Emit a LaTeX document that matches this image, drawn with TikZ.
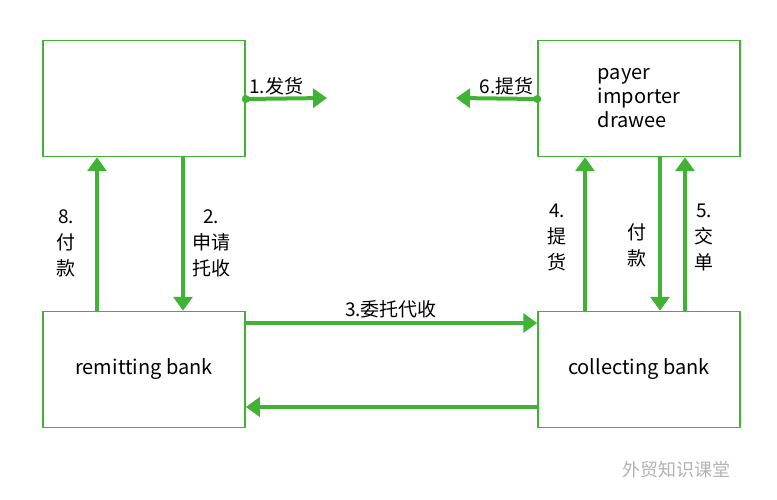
\documentclass[tikz,border=0pt]{standalone}
\usepackage{fontspec}
\setmainfont{Noto Sans CJK SC}
\usetikzlibrary{arrows.meta}
\definecolor{gr}{RGB}{64,178,52}
\begin{document}
\begin{tikzpicture}[x=1pt,y=-1pt,
 box/.style={draw=gr,line width=1.5pt,minimum width=202pt,minimum height=116pt,inner sep=0pt,align=left,font=\fontsize{20}{24}\selectfont},
 arr/.style={draw=gr,line width=4pt,-{Triangle[length=14pt,width=19pt]}},
 lab/.style={font=\fontsize{19}{21}\selectfont,inner sep=0pt}]
\useasboundingbox (0,0) rectangle (777,500);
\node[box] (tl) at (144,98.5) {};
\node[box] (tr) at (639,98.5) {payer\\importer\\drawee};
\node[box] (bl) at (144,369.5) {remitting bank};
\node[box] (br) at (639,369.5) {collecting bank};
\coordinate (e1) at (327,98);
\coordinate (e6) at (456,98);
\draw[arr] ([yshift=-0.5pt]tl.east) -- (e1);
\fill[gr] ([yshift=-0.5pt]tl.east) circle (4pt);
\draw[arr] ([yshift=-0.5pt]tr.west) -- (e6);
\fill[gr] ([yshift=-0.5pt]tr.west) circle (4pt);
\draw[arr] (bl.north -| 97,0) -- (tl.south -| 97,0);
\draw[arr] (tl.south -| 183,0) -- (bl.north -| 183,0);
\draw[arr] (br.north -| 585,0) -- (tr.south -| 585,0);
\draw[arr] (tr.south -| 660,0) -- (br.north -| 660,0);
\draw[arr] (br.north -| 685,0) -- (tr.south -| 685,0);
\draw[arr] (bl.east |- 0,323) -- (br.west |- 0,323);
\draw[arr] (br.west |- 0,407) -- (bl.east |- 0,407);
\node[lab,anchor=west] (l1) at (249,86) {1.发货};
\node[lab,anchor=east] (l6) at (534,86) {6.提货};
\node[lab,align=center] (l8) at (66,243) {8.\\[5pt]付\\[5pt]款};
\node[lab,align=center] (l2) at (211,243) {2.\\[5pt]申请\\[5pt]托收};
\node[lab,align=center] (l4) at (557,237) {4.\\[5pt]提\\[5pt]货};
\node[lab,align=center] (lp) at (637,245) {付\\[5pt]款};
\node[lab,align=center] (l5) at (704,237) {5.\\[5pt]交\\[5pt]单};
\node[lab] (l3) at (391,309) {3.委托代收};
\node[font=\fontsize{18}{20}\selectfont,text=black!30] (wm) at (676,470) {外贸知识课堂};
\end{tikzpicture}
\end{document}
